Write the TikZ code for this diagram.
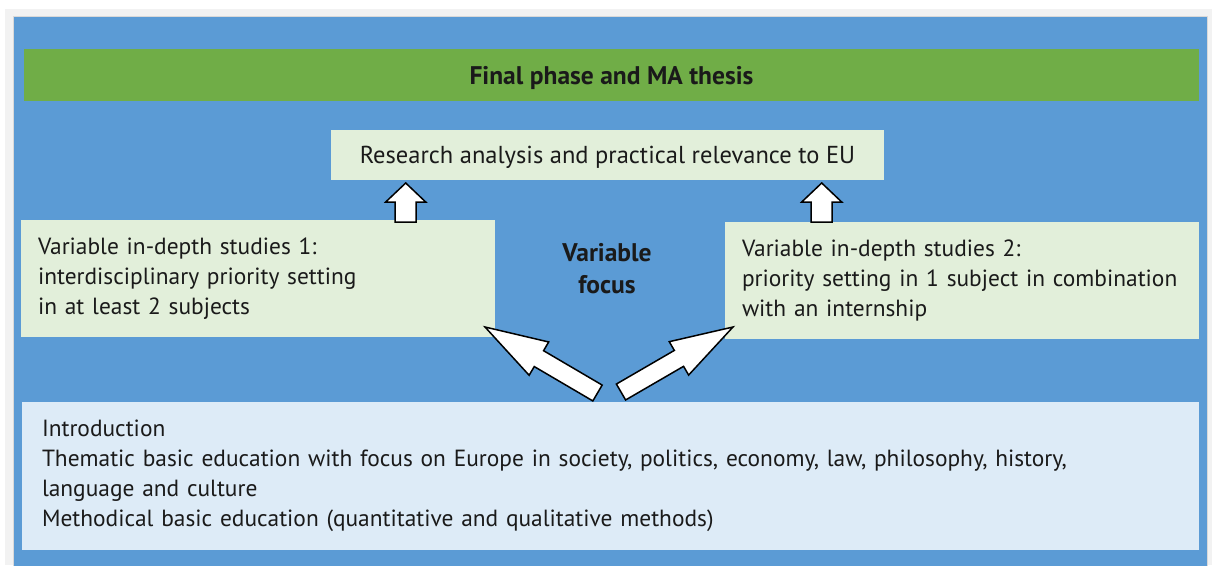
\documentclass[tikz,border=0pt]{standalone}
\usepackage{fontspec}
\setmainfont{PT Sans}
\usetikzlibrary{calc,positioning}

\definecolor{panelblue}{HTML}{5B9BD5}
\definecolor{bargreen}{HTML}{70AD47}
\definecolor{palegreen}{HTML}{E2EFDA}
\definecolor{paleblue}{HTML}{DDEBF7}
\definecolor{framegray}{HTML}{F2F2F2}
\definecolor{edgegray}{HTML}{D9D9D9}
\definecolor{inkdark}{HTML}{1A1A1A}

% block arrow: tail, tip, half shaft, half head, head length
\newcommand{\blockarrow}[5]{%
	\coordinate (hb) at ($(#2)!#5!(#1)$);
	\draw[blockarr] ($(#1)!#3!90:(#2)$) -- ($(hb)!#3!90:(#2)$) -- ($(hb)!#4!90:(#2)$) -- (#2)
		-- ($(hb)!#4!-90:(#2)$) -- ($(hb)!#3!-90:(#2)$) -- ($(#1)!#3!-90:(#2)$) -- cycle;
}

\begin{document}
\begin{tikzpicture} [x=1pt,y=-1pt,
		every node/.style={text=inkdark,font=\fontsize{23.4}{30}\selectfont},
		bar/.style={fill=bargreen,minimum width=1175pt,minimum height=52pt,text depth=0pt,font=\fontsize{25.5}{30}\selectfont\bfseries},
		greenbox/.style={fill=palegreen,inner sep=0pt},
		studybox/.style={greenbox,minimum width=474pt,minimum height=117pt,text width=440pt,align=left},
		introbox/.style={fill=paleblue,minimum width=1177pt,minimum height=148pt,text width=1137pt,align=left,inner sep=0pt},
		blockarr/.style={fill=white,draw=black,line width=1.5pt,line join=miter}]
			\useasboundingbox (0,0) rectangle (1212,565);
			\fill[white] (0,0) rectangle (1212,565);
			\fill[framegray] (5,9) rectangle (1212,565);
			\filldraw[fill=panelblue,draw=edgegray,line width=0.8pt] (13,16) rectangle (1207,566);
			
			\node[bar] (final) at (611.5,75) {Final phase and MA thesis};
			\node[greenbox,minimum width=553pt,minimum height=50pt,text depth=0pt,font=\fontsize{24.5}{30}\selectfont] (research) at (607.5,155) {Research analysis and practical relevance to EU};
			
			\node[studybox] (study1) at (258,278.5) {Variable in-depth studies 1:\\interdisciplinary priority setting\\in at least 2 subjects};
			\node[studybox] (study2) at (962,280.5) {Variable in-depth studies 2:\\priority setting in 1 subject in combination\\with an internship};
			\node[align=center,font=\fontsize{25.5}{32}\selectfont\bfseries] (focus) at (607,269) {Variable\\focus};
			
			\node[introbox] (intro) at (610.5,476) {Introduction\\Thematic basic education with focus on Europe in society, politics, economy, law, philosophy, history,\\language and culture\\Methodical basic education (quantitative and qualitative methods)};
			
			\coordinate (up1tail) at (405.7,222);
			\coordinate (up1tip) at (405.7,183);
			\coordinate (up2tail) at (821.7,222);
			\coordinate (up2tip) at (821.7,183);
			\coordinate (fan1tail) at (597.5,393);
			\coordinate (fan1tip) at (485,327);
			\coordinate (fan2tail) at (621,392);
			\coordinate (fan2tip) at (733,327);
			
			\blockarrow{up1tail}{up1tip}{10.5pt}{20pt}{19pt}
			\blockarrow{up2tail}{up2tip}{10.5pt}{20pt}{19pt}
			\blockarrow{fan1tail}{fan1tip}{9.2pt}{19.3pt}{62.5pt}
			\blockarrow{fan2tail}{fan2tip}{9.2pt}{19.3pt}{62.5pt}
\end{tikzpicture}
\end{document}
